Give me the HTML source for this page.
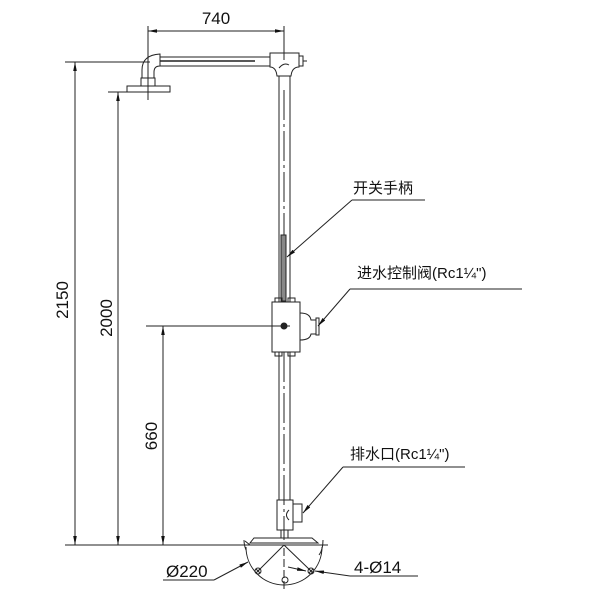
<!DOCTYPE html>
<html><head><meta charset="utf-8"><style>
body{margin:0;background:#fff}
svg{display:block}
text{font-family:"Liberation Sans","Noto Sans CJK SC",sans-serif;fill:#111}
</style></head><body>
<svg width="600" height="600" viewBox="0 0 600 600" xmlns="http://www.w3.org/2000/svg">
<defs>
<marker id="a" viewBox="0 0 10 10" refX="10" refY="5" markerWidth="9" markerHeight="9" orient="auto-start-reverse" markerUnits="userSpaceOnUse"><path d="M0,3L10,5L0,7z" fill="#111"/></marker>
</defs>
<g stroke="#222" stroke-width="1" fill="none">
<line x1="148" y1="31" x2="284" y2="31" marker-start="url(#a)" marker-end="url(#a)"/>
<line x1="148" y1="26" x2="148" y2="100"/>
<line x1="284" y1="26" x2="284" y2="60"/>
<line x1="65" y1="62" x2="150" y2="62"/>
<line x1="108" y1="92" x2="128" y2="92"/>
<line x1="146" y1="326" x2="290" y2="326"/>
<line x1="65" y1="545" x2="250" y2="545"/>
<line x1="75" y1="62" x2="75" y2="545" marker-start="url(#a)" marker-end="url(#a)"/>
<line x1="118" y1="92" x2="118" y2="545" marker-start="url(#a)" marker-end="url(#a)"/>
<line x1="163" y1="326" x2="163" y2="545" marker-start="url(#a)" marker-end="url(#a)"/>
<rect x="127" y="86" width="43" height="6"/>
<rect x="141" y="78" width="14" height="8"/>
<path d="M142,78 V70 Q142,55 160,54 V66 Q154,66 154,72 V78"/>
<line x1="160" y1="57" x2="270" y2="57"/>
<line x1="160" y1="66" x2="270" y2="66"/>
<line x1="160" y1="61" x2="255" y2="61" stroke-width="1.4"/>
<path d="M270,53 H299 V67 Q292,67 291,76 H277 Q276,67 270,67 Z"/>
<rect x="299" y="56" width="4" height="10"/>
<line x1="303" y1="61" x2="307" y2="61"/>
<path d="M279,68 Q284,62 289,65"/>
<line x1="279" y1="76" x2="279" y2="302"/>
<line x1="290" y1="76" x2="290" y2="302"/>
<line x1="279" y1="352" x2="279" y2="500"/>
<line x1="290" y1="352" x2="290" y2="500"/>
<line x1="284" y1="90" x2="284" y2="300" stroke-dasharray="30,4,3,4"/>
<line x1="284" y1="352" x2="284" y2="540" stroke-dasharray="30,4,3,4"/>
<rect x="281" y="235" width="5" height="66" fill="#888"/>
<rect x="272" y="302" width="28" height="50"/>
<rect x="275" y="298" width="7" height="4"/>
<rect x="288" y="298" width="7" height="4"/>
<rect x="275" y="352" width="7" height="4"/>
<rect x="288" y="352" width="7" height="4"/>
<path d="M300,313 Q310,313 311,320 H316 V334 H311 Q310,340 300,340"/>
<rect x="316" y="318" width="3" height="17"/>
<circle cx="284" cy="326" r="3" fill="#222"/>
<rect x="277" y="500" width="16" height="30"/>
<path d="M293,504 H302 V522 H293"/>
<path d="M289,510 Q284,515 289,520"/>
<line x1="281" y1="530" x2="281" y2="538"/>
<line x1="288" y1="530" x2="288" y2="538"/>
<path d="M254,538 H312 L318,543 H250 Z"/>
<line x1="245" y1="545" x2="328" y2="545"/>
<line x1="245" y1="541" x2="250" y2="545"/>
<path d="M246,547 A38,38 0 0 0 322,547"/>
<path d="M244,540 Q244,545 246,550"/>
<path d="M323,540 Q323,550 319,555"/>
<line x1="284" y1="545" x2="258" y2="571"/>
<line x1="284" y1="545" x2="311" y2="571"/>
<line x1="284" y1="548" x2="284" y2="590" stroke-dasharray="8,3"/>
<circle cx="258" cy="571" r="3"/><circle cx="311" cy="571" r="3"/><circle cx="285" cy="580" r="3"/>
<path d="M256,569l4,4M260,569l-4,4M309,569l4,4M313,569l-4,4"/>
<line x1="352" y1="200" x2="425" y2="200"/>
<line x1="352" y1="200" x2="287" y2="257" marker-end="url(#a)"/>
<line x1="350" y1="289" x2="522" y2="289"/>
<line x1="350" y1="289" x2="318" y2="326" marker-end="url(#a)"/>
<line x1="343" y1="467" x2="465" y2="467"/>
<line x1="343" y1="467" x2="303" y2="513" marker-end="url(#a)"/>
<line x1="163" y1="580" x2="214" y2="580"/>
<line x1="214" y1="580" x2="248" y2="562" marker-end="url(#a)"/>
<line x1="350" y1="576" x2="418" y2="576"/>
<line x1="350" y1="576" x2="315" y2="571" marker-end="url(#a)"/>
<line x1="288" y1="567" x2="306" y2="571" marker-end="url(#a)"/>
</g>
<text x="216" y="24" font-size="17" text-anchor="middle">740</text>
<text transform="translate(68,300) rotate(-90)" font-size="17" text-anchor="middle">2150</text>
<text transform="translate(112,318) rotate(-90)" font-size="17" text-anchor="middle">2000</text>
<text transform="translate(157,436) rotate(-90)" font-size="17" text-anchor="middle">660</text>
<text x="353" y="193" font-size="15">开关手柄</text>
<text x="357" y="278" font-size="15">进水控制阀(Rc1¼")</text>
<text x="350" y="459" font-size="15">排水口(Rc1¼")</text>
<text x="166" y="577" font-size="17">Ø220</text>
<text x="354" y="573" font-size="17">4-Ø14</text>
</svg>
</body></html>
